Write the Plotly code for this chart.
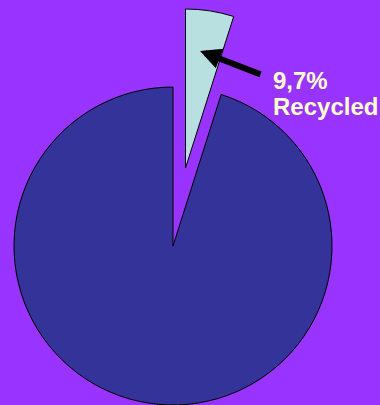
import plotly.graph_objects as go

# Data
labels = ["Recycled", "Not recycled"]
values = [4.9, 95.1]          # slice shares as drawn in the picture
label_pct = "9,7%"
label_name = "Recycled"

BG = "#9933FF"
MAIN = "#333399"
LIGHT = "#B9E0E0"
TXT = "#FFFFCC"
CLEAR = "rgba(0,0,0,0)"

W, H = 380, 405

def dom(cx, cy, r):
    # cx, cy in px from top-left
    return dict(x=[(cx - r) / W, (cx + r) / W],
                y=[(H - cy - r) / H, (H - cy + r) / H])

fig = go.Figure()

# main (un-pulled) slice
fig.add_trace(go.Pie(
    labels=labels, values=values, sort=False, direction="clockwise", rotation=0,
    marker=dict(colors=[CLEAR, MAIN], line=dict(color=[CLEAR, "black"], width=1)),
    textinfo="none", hoverinfo="skip", showlegend=False,
    domain=dom(173, 246, 159),
))

# exploded slice
fig.add_trace(go.Pie(
    labels=labels, values=values, sort=False, direction="clockwise", rotation=0,
    marker=dict(colors=[LIGHT, CLEAR], line=dict(color=["black", CLEAR], width=1)),
    textinfo="none", hoverinfo="skip", showlegend=False,
    domain=dom(185.5, 168, 159),
))

font = dict(family="Liberation Sans, Arial, sans-serif", size=24, color=TXT)
fig.add_annotation(text="<b>%s</b>" % label_pct, xref="paper", yref="paper",
                   x=271 / W, y=1 - 80 / H, xanchor="left", yanchor="middle",
                   showarrow=False, font=font)
fig.add_annotation(text="<b>%s</b>" % label_name, xref="paper", yref="paper",
                   x=271 / W, y=1 - 107 / H, xanchor="left", yanchor="middle",
                   showarrow=False, font=font)

# arrow
fig.add_annotation(text="", xref="paper", yref="paper",
                   x=200 / W, y=1 - 51 / H, ax=62, ay=24,
                   showarrow=True, arrowhead=2, arrowsize=0.7, arrowwidth=6,
                   arrowcolor="black")

fig.update_layout(width=W, height=H, margin=dict(l=0, r=0, t=0, b=0),
                  paper_bgcolor=BG, plot_bgcolor=BG, showlegend=False)

fig.write_html("out.html", config={"displayModeBar": False},
               post_script="document.body.style.margin='0';document.body.style.overflow='hidden';")
